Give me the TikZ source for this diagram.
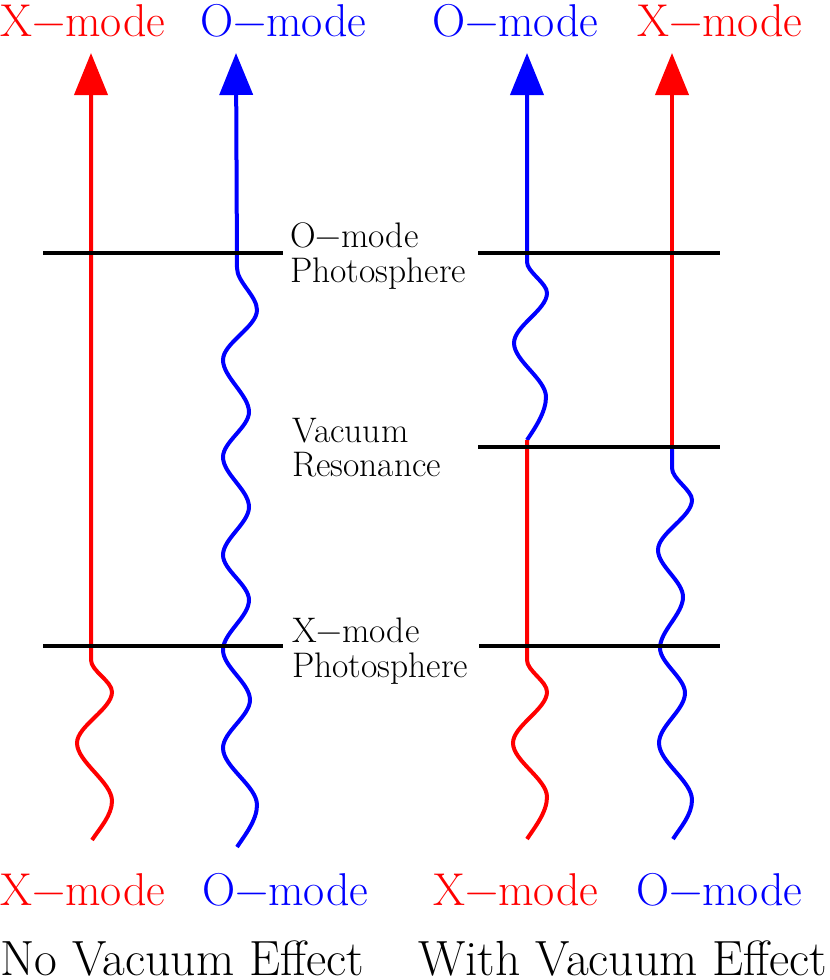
\documentclass[tikz,border=0pt]{standalone}
\usepackage{fontspec}
\setmainfont{Latin Modern Roman}
\usetikzlibrary{arrows.meta}
\begin{document}
\begin{tikzpicture}[x=1pt,y=-1pt,
  wave/.style={line width=4pt},
  xr/.style={wave, red},
  ob/.style={wave, blue},
  layer/.style={line width=4pt, black},
  uptip/.style={{Triangle[length=42pt,width=33pt]}-},
  big/.style={inner sep=0pt, anchor=base west, font=\fontsize{46}{56}\selectfont},
  captext/.style={inner sep=0pt, anchor=base west, font=\fontsize{49.5}{58}\selectfont},
  mid/.style={inner sep=0pt, anchor=base west, font=\fontsize{35.5}{42}\selectfont}]
\useasboundingbox (0,0) rectangle (830,980);

% arrow tips
\coordinate (tXL) at (91,53);
\coordinate (tOL) at (236,53);
\coordinate (tOR) at (527,53);
\coordinate (tXR) at (672,53);
\coordinate (vR1) at (527,440);
\coordinate (vR2) at (672,447);

% left column: no vacuum effect
\draw[xr,uptip] (tXL) -- (91,660) .. controls (91,671) and (112,681) .. (112,692)
  .. controls (112,709) and (77,726) .. (77,743)
  .. controls (77,762) and (112,782) .. (112,801)
  .. controls (112,815) and (100,828) .. (92,840);

\draw[ob,uptip] (tOL) -- (237,268) .. controls (237,282) and (257,296) .. (257,310)
  .. controls (257,327) and (223,343) .. (223,360)
  .. controls (223,377) and (249,395) .. (249,412)
  .. controls (249,427) and (223,442) .. (223,457)
  .. controls (223,474) and (249,490) .. (249,507)
  .. controls (249,523) and (223,539) .. (223,555)
  .. controls (223,570) and (249,585) .. (249,600)
  .. controls (249,617) and (223,633) .. (223,650)
  .. controls (223,667) and (250,683) .. (250,700)
  .. controls (250,716) and (223,732) .. (223,748)
  .. controls (223,767) and (257,786) .. (257,805)
  .. controls (257,820) and (245,835) .. (237,847);

% right column: with vacuum effect
\draw[ob,uptip] (tOR) -- (527,262) .. controls (527,272) and (547,283) .. (547,293)
  .. controls (547,310) and (514,326) .. (514,343)
  .. controls (514,361) and (546,379) .. (546,397)
  .. controls (546,412) and (535,428) .. (vR1);
\draw[xr] (vR1) -- (527,660) .. controls (527,671) and (547,681) .. (547,692)
  .. controls (547,709) and (513,726) .. (513,743)
  .. controls (513,761) and (547,779) .. (547,797)
  .. controls (547,812) and (535,827) .. (527,839);

\draw[xr,uptip] (tXR) -- (vR2);
\draw[ob] (vR2) -- (672,468) .. controls (672,479) and (692,490) .. (692,500)
  .. controls (692,517) and (658,533) .. (658,550)
  .. controls (658,566) and (683,581) .. (683,597)
  .. controls (683,614) and (660,631) .. (660,648)
  .. controls (660,663) and (685,678) .. (685,693)
  .. controls (685,710) and (659,726) .. (659,743)
  .. controls (659,762) and (692,781) .. (692,800)
  .. controls (692,815) and (680,828) .. (673,839);

% layers
\coordinate (oL1) at (43,253);  \coordinate (oL2) at (283,253);
\coordinate (oR1) at (478,253); \coordinate (oR2) at (720,253);
\coordinate (vR1b) at (478,447); \coordinate (vR2b) at (720,447);
\coordinate (xL1) at (43,646);  \coordinate (xL2) at (283,646);
\coordinate (xR1) at (479,646); \coordinate (xR2) at (720,646);
\draw[layer] (oL1) -- (oL2);
\draw[layer] (oR1) -- (oR2);
\draw[layer] (vR1b) -- (vR2b);
\draw[layer] (xL1) -- (xL2);
\draw[layer] (xR1) -- (xR2);

% middle labels
\node[mid] (lo1) at (290,247) {O−mode};
\node[mid] (lo2) at (290,282) {Photosphere};
\node[mid] (lv1) at (292,442) {Vacuum};
\node[mid] (lv2) at (292,476) {Resonance};
\node[mid] (lx1) at (292,642) {X−mode};
\node[mid] (lx2) at (292,677) {Photosphere};

% top labels
\node[big,red]  (TXL) at (0,36)   {X−mode};
\node[big,blue] (TOL) at (200,36) {O−mode};
\node[big,blue] (TOR) at (432,36) {O−mode};
\node[big,red]  (TXR) at (637,36) {X−mode};

% bottom labels
\node[big,red]  (BXL) at (0,905)   {X−mode};
\node[big,blue] (BOL) at (202,905) {O−mode};
\node[big,red]  (BXR) at (433,905) {X−mode};
\node[big,blue] (BOR) at (636,905) {O−mode};
\node[captext] (capL) at (0,975)   {No Vacuum Effect};
\node[captext] (capR) at (418,975) {With Vacuum Effect};
\end{tikzpicture}
\end{document}
